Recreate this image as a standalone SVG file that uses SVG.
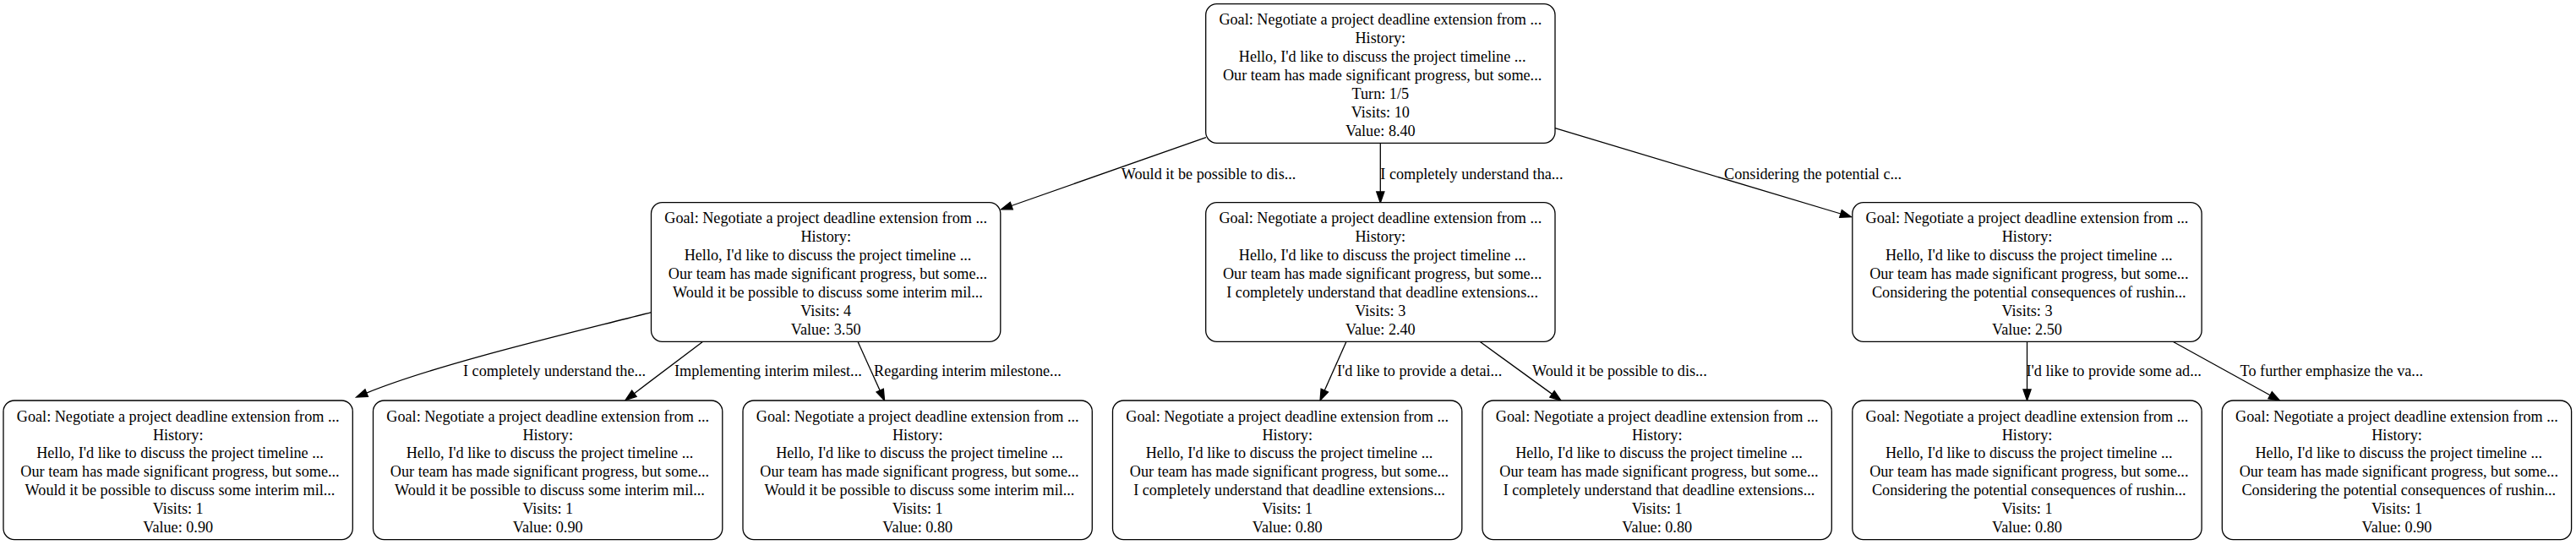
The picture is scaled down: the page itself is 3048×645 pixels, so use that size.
<svg xmlns="http://www.w3.org/2000/svg" width="3048" height="645" viewBox="0 0 3048 645">
<style>
.bg{fill:#ffffff}
.box{fill:#ffffff;stroke:#000000;stroke-width:1.3}
.t{font-family:"Liberation Serif","Times New Roman",serif;font-size:18.2px;fill:#000000;text-anchor:middle}
.lbl{font-family:"Liberation Serif","Times New Roman",serif;font-size:18.2px;fill:#000000;text-anchor:start}
.edge{fill:none;stroke:#000000;stroke-width:1.3}
</style>
<defs>
<marker id="arrow" markerUnits="userSpaceOnUse" markerWidth="14" markerHeight="10" refX="0" refY="4.55" orient="auto" overflow="visible">
<path d="M0,0 L13,4.55 L0,9.1 z" fill="#000000" stroke="#000000" stroke-width="1.3"/>
</marker>
</defs>
<rect class="bg" x="0" y="0" width="3048" height="645"/>

<g id="edges">
<path class="edge" d="M1427,162.7 L1196.8,243.5" marker-end="url(#arrow)"/>
<text class="lbl" x="1326.7" y="211.7">Would it be possible to dis...</text>
<path class="edge" d="M1633.3,169.3 L1633.3,227" marker-end="url(#arrow)"/>
<text class="lbl" x="1633.3" y="211.7">I completely understand tha...</text>
<path class="edge" d="M1840,151.7 L2178,253" marker-end="url(#arrow)"/>
<text class="lbl" x="2040" y="211.7">Considering the potential c...</text>

<path class="edge" d="M771.7,369.3 C680,393 520,430 433.7,465.1" marker-end="url(#arrow)"/>
<text class="lbl" x="548" y="445">I completely understand the...</text>
<path class="edge" d="M831.7,404.3 L750.4,465.7" marker-end="url(#arrow)"/>
<text class="lbl" x="798" y="445">Implementing interim milest...</text>
<path class="edge" d="M1015,404.3 L1041.2,462.2" marker-end="url(#arrow)"/>
<text class="lbl" x="1034" y="445">Regarding interim milestone...</text>

<path class="edge" d="M1593,404.3 L1567.3,462.1" marker-end="url(#arrow)"/>
<text class="lbl" x="1582" y="445">I'd like to provide a detai...</text>
<path class="edge" d="M1751,404.3 L1836.5,466.4" marker-end="url(#arrow)"/>
<text class="lbl" x="1813" y="445">Would it be possible to dis...</text>

<path class="edge" d="M2398.5,404.3 L2398.5,461" marker-end="url(#arrow)"/>
<text class="lbl" x="2397.5" y="445">I'd like to provide some ad...</text>
<path class="edge" d="M2571,404.3 L2686.1,467.7" marker-end="url(#arrow)"/>
<text class="lbl" x="2650.6" y="445">To further emphasize the va...</text>
</g>

<g id="root">
<rect class="box" x="1426.7" y="4.7" width="413.3" height="164.6" rx="13" ry="13"/>
<text class="t" x="1633.3" y="29.3">Goal: Negotiate a project deadline extension from ...</text>
<text class="t" x="1633.3" y="51.2">History:</text>
<text class="t" x="1635.6" y="73.1">Hello, I'd like to discuss the project timeline ...</text>
<text class="t" x="1635.6" y="95">Our team has made significant progress, but some...</text>
<text class="t" x="1633.3" y="116.9">Turn: 1/5</text>
<text class="t" x="1633.3" y="138.8">Visits: 10</text>
<text class="t" x="1633.3" y="160.7">Value: 8.40</text>
</g>

<g id="n1">
<rect class="box" x="770.5" y="239.7" width="413.3" height="164.6" rx="13" ry="13"/>
<text class="t" x="977.2" y="264.3">Goal: Negotiate a project deadline extension from ...</text>
<text class="t" x="977.2" y="286.2">History:</text>
<text class="t" x="979.5" y="308.1">Hello, I'd like to discuss the project timeline ...</text>
<text class="t" x="979.5" y="330">Our team has made significant progress, but some...</text>
<text class="t" x="979.5" y="351.9">Would it be possible to discuss some interim mil...</text>
<text class="t" x="977.2" y="373.8">Visits: 4</text>
<text class="t" x="977.2" y="395.7">Value: 3.50</text>
</g>

<g id="n2">
<rect class="box" x="1426.7" y="239.7" width="413.3" height="164.6" rx="13" ry="13"/>
<text class="t" x="1633.3" y="264.3">Goal: Negotiate a project deadline extension from ...</text>
<text class="t" x="1633.3" y="286.2">History:</text>
<text class="t" x="1635.6" y="308.1">Hello, I'd like to discuss the project timeline ...</text>
<text class="t" x="1635.6" y="330">Our team has made significant progress, but some...</text>
<text class="t" x="1635.6" y="351.9">I completely understand that deadline extensions...</text>
<text class="t" x="1633.3" y="373.8">Visits: 3</text>
<text class="t" x="1633.3" y="395.7">Value: 2.40</text>
</g>

<g id="n3">
<rect class="box" x="2191.8" y="239.7" width="413.3" height="164.6" rx="13" ry="13"/>
<text class="t" x="2398.5" y="264.3">Goal: Negotiate a project deadline extension from ...</text>
<text class="t" x="2398.5" y="286.2">History:</text>
<text class="t" x="2400.8" y="308.1">Hello, I'd like to discuss the project timeline ...</text>
<text class="t" x="2400.8" y="330">Our team has made significant progress, but some...</text>
<text class="t" x="2400.8" y="351.9">Considering the potential consequences of rushin...</text>
<text class="t" x="2398.5" y="373.8">Visits: 3</text>
<text class="t" x="2398.5" y="395.7">Value: 2.50</text>
</g>

<g id="n1a">
<rect class="box" x="4" y="474" width="413.3" height="164.6" rx="13" ry="13"/>
<text class="t" x="210.7" y="498.6">Goal: Negotiate a project deadline extension from ...</text>
<text class="t" x="210.7" y="520.5">History:</text>
<text class="t" x="213" y="542.4">Hello, I'd like to discuss the project timeline ...</text>
<text class="t" x="213" y="564.3">Our team has made significant progress, but some...</text>
<text class="t" x="213" y="586.2">Would it be possible to discuss some interim mil...</text>
<text class="t" x="210.7" y="608.1">Visits: 1</text>
<text class="t" x="210.7" y="630">Value: 0.90</text>
</g>

<g id="n1b">
<rect class="box" x="441.5" y="474" width="413.3" height="164.6" rx="13" ry="13"/>
<text class="t" x="648.2" y="498.6">Goal: Negotiate a project deadline extension from ...</text>
<text class="t" x="648.2" y="520.5">History:</text>
<text class="t" x="650.5" y="542.4">Hello, I'd like to discuss the project timeline ...</text>
<text class="t" x="650.5" y="564.3">Our team has made significant progress, but some...</text>
<text class="t" x="650.5" y="586.2">Would it be possible to discuss some interim mil...</text>
<text class="t" x="648.2" y="608.1">Visits: 1</text>
<text class="t" x="648.2" y="630">Value: 0.90</text>
</g>

<g id="n1c">
<rect class="box" x="879" y="474" width="413.3" height="164.6" rx="13" ry="13"/>
<text class="t" x="1085.7" y="498.6">Goal: Negotiate a project deadline extension from ...</text>
<text class="t" x="1085.7" y="520.5">History:</text>
<text class="t" x="1088" y="542.4">Hello, I'd like to discuss the project timeline ...</text>
<text class="t" x="1088" y="564.3">Our team has made significant progress, but some...</text>
<text class="t" x="1088" y="586.2">Would it be possible to discuss some interim mil...</text>
<text class="t" x="1085.7" y="608.1">Visits: 1</text>
<text class="t" x="1085.7" y="630">Value: 0.80</text>
</g>

<g id="n2a">
<rect class="box" x="1316.5" y="474" width="413.3" height="164.6" rx="13" ry="13"/>
<text class="t" x="1523.2" y="498.6">Goal: Negotiate a project deadline extension from ...</text>
<text class="t" x="1523.2" y="520.5">History:</text>
<text class="t" x="1525.5" y="542.4">Hello, I'd like to discuss the project timeline ...</text>
<text class="t" x="1525.5" y="564.3">Our team has made significant progress, but some...</text>
<text class="t" x="1525.5" y="586.2">I completely understand that deadline extensions...</text>
<text class="t" x="1523.2" y="608.1">Visits: 1</text>
<text class="t" x="1523.2" y="630">Value: 0.80</text>
</g>

<g id="n2b">
<rect class="box" x="1754" y="474" width="413.3" height="164.6" rx="13" ry="13"/>
<text class="t" x="1960.7" y="498.6">Goal: Negotiate a project deadline extension from ...</text>
<text class="t" x="1960.7" y="520.5">History:</text>
<text class="t" x="1963" y="542.4">Hello, I'd like to discuss the project timeline ...</text>
<text class="t" x="1963" y="564.3">Our team has made significant progress, but some...</text>
<text class="t" x="1963" y="586.2">I completely understand that deadline extensions...</text>
<text class="t" x="1960.7" y="608.1">Visits: 1</text>
<text class="t" x="1960.7" y="630">Value: 0.80</text>
</g>

<g id="n3a">
<rect class="box" x="2191.8" y="474" width="413.3" height="164.6" rx="13" ry="13"/>
<text class="t" x="2398.5" y="498.6">Goal: Negotiate a project deadline extension from ...</text>
<text class="t" x="2398.5" y="520.5">History:</text>
<text class="t" x="2400.8" y="542.4">Hello, I'd like to discuss the project timeline ...</text>
<text class="t" x="2400.8" y="564.3">Our team has made significant progress, but some...</text>
<text class="t" x="2400.8" y="586.2">Considering the potential consequences of rushin...</text>
<text class="t" x="2398.5" y="608.1">Visits: 1</text>
<text class="t" x="2398.5" y="630">Value: 0.80</text>
</g>

<g id="n3b">
<rect class="box" x="2629.3" y="474" width="413.3" height="164.6" rx="13" ry="13"/>
<text class="t" x="2836" y="498.6">Goal: Negotiate a project deadline extension from ...</text>
<text class="t" x="2836" y="520.5">History:</text>
<text class="t" x="2838.3" y="542.4">Hello, I'd like to discuss the project timeline ...</text>
<text class="t" x="2838.3" y="564.3">Our team has made significant progress, but some...</text>
<text class="t" x="2838.3" y="586.2">Considering the potential consequences of rushin...</text>
<text class="t" x="2836" y="608.1">Visits: 1</text>
<text class="t" x="2836" y="630">Value: 0.90</text>
</g>
</svg>
